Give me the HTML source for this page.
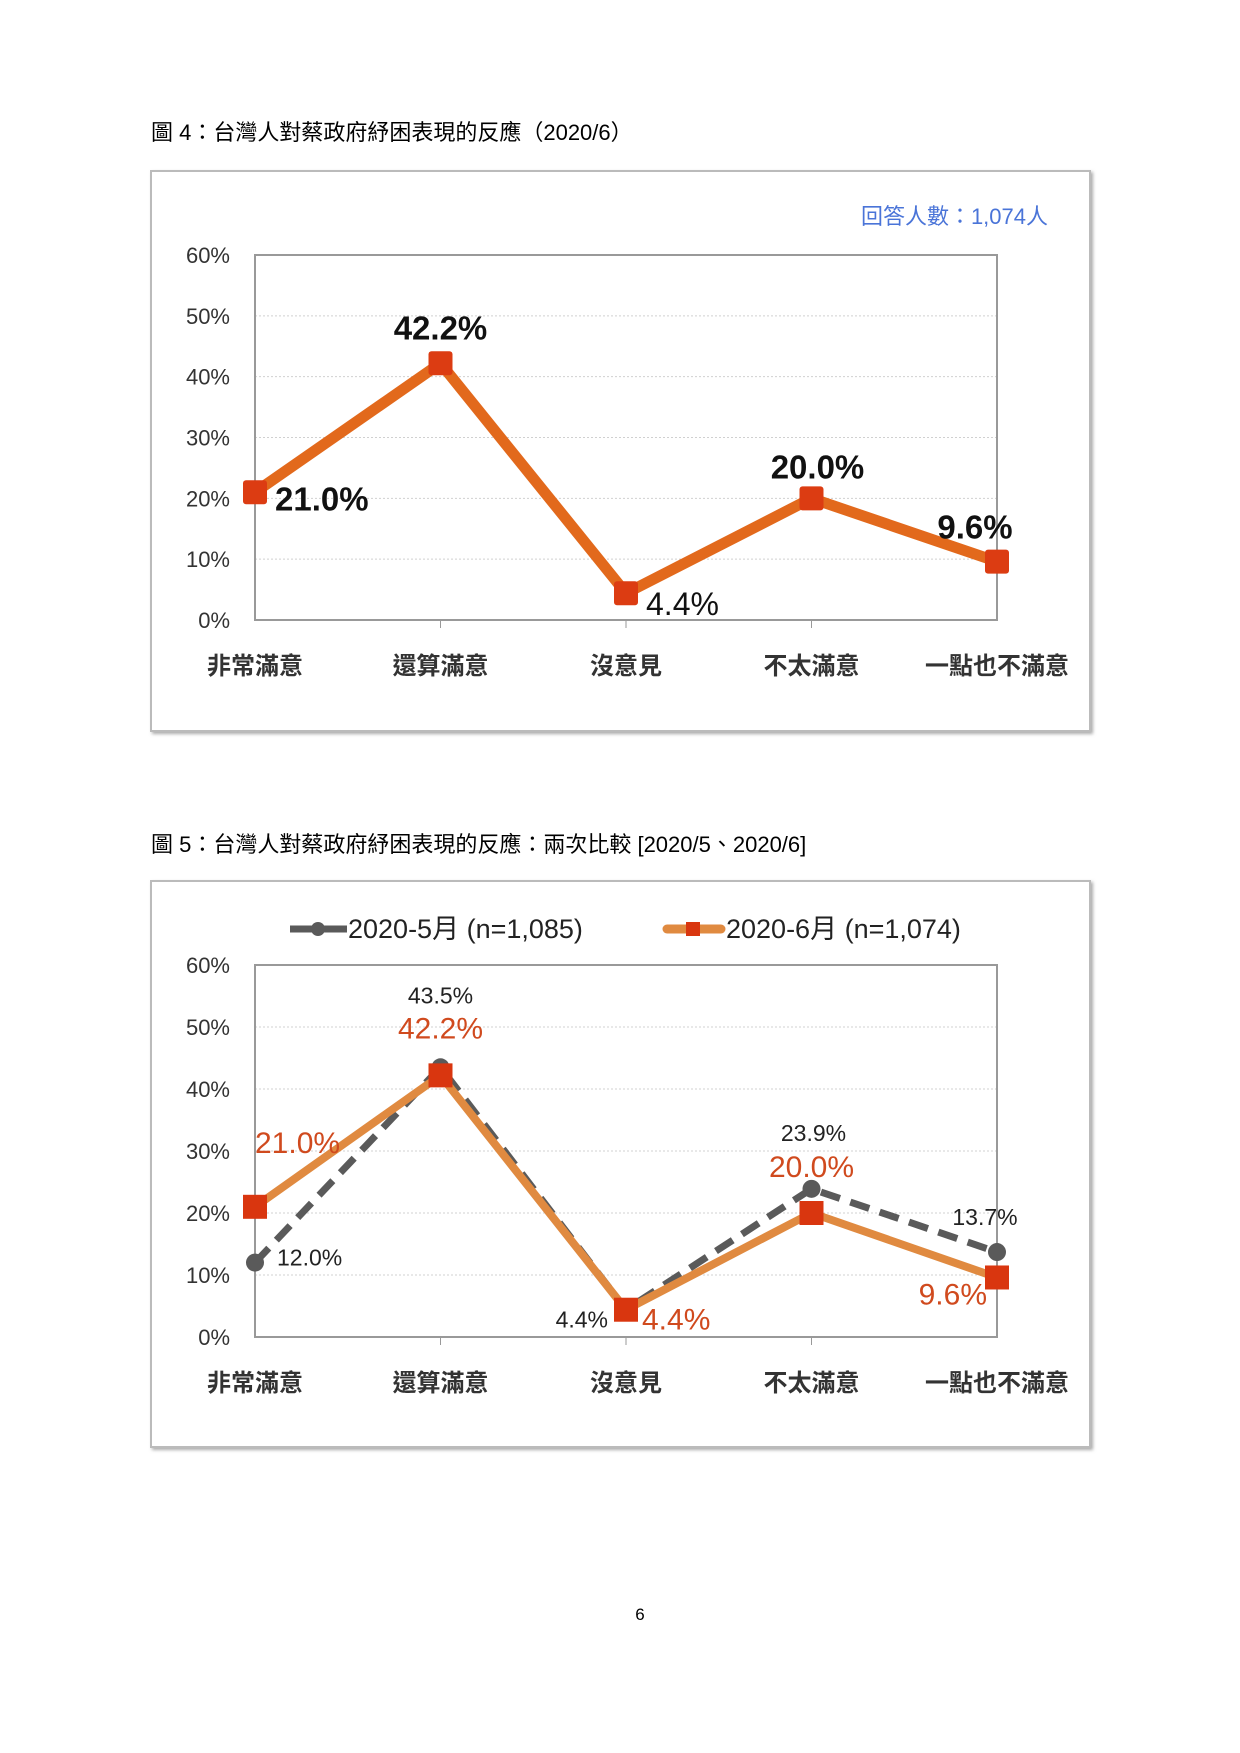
<!DOCTYPE html>
<html><head><meta charset="utf-8"><style>
body{margin:0;background:#fff;}
svg{display:block;font-family:"Liberation Sans","Noto Sans CJK TC",sans-serif;}
</style></head><body>
<svg id="page" width="1240" height="1753" viewBox="0 0 1240 1753">
<defs><filter id="sh" x="-5%" y="-5%" width="110%" height="110%"><feDropShadow dx="2" dy="2" stdDeviation="1.5" flood-color="#888" flood-opacity="0.7"/></filter></defs>
<text x="151" y="140" font-size="22" fill="#000">圖 4：台灣人對蔡政府紓困表現的反應（2020/6）</text>
<rect x="151" y="171" width="939" height="560" fill="#fff" stroke="#bbb" stroke-width="2" filter="url(#sh)"/>
<text x="1048" y="224" font-size="22" fill="#4a74d8" text-anchor="end">回答人數：1,074人</text>
<g id="c1"></g>
<text x="151" y="852" font-size="22" fill="#000">圖 5：台灣人對蔡政府紓困表現的反應：兩次比較 [2020/5、2020/6]</text>
<rect x="151" y="881" width="939" height="566" fill="#fff" stroke="#bbb" stroke-width="2" filter="url(#sh)"/>
<g>
<g>
<line x1="290" y1="929" x2="347" y2="929" stroke="#5a5a5a" stroke-width="7"/><circle cx="318" cy="929" r="7" fill="#5a5a5a"/>
<text x="348" y="938" font-size="27" fill="#222">2020-5月 (n=1,085)</text></g>
<g>
<line x1="667" y1="929" x2="721" y2="929" stroke="#e08a40" stroke-width="9" stroke-linecap="round"/><rect x="686" y="922" width="14" height="14" fill="#d9360f"/>
<text x="726" y="938" font-size="27" fill="#222">2020-6月 (n=1,074)</text></g>
</g>
<g id="c2"></g>
<text x="640" y="1620" font-size="17" text-anchor="middle" fill="#000">6</text>
</svg>
<script>
const categories=["非常滿意","還算滿意","沒意見","不太滿意","一點也不滿意"];
const yTicks=[0,10,20,30,40,50,60];
const june=[21.0,42.2,4.4,20.0,9.6];
const may=[12.0,43.5,4.4,23.9,13.7];
const NS="http://www.w3.org/2000/svg";
function mk(p,t,a){const e=document.createElementNS(NS,t);for(const k in a)e.setAttribute(k,a[k]);p.appendChild(e);return e;}
function axes(g,top,bot){
  const L=255,R=997;
  const x=i=>L+(R-L)*i/(categories.length-1);
  const y=v=>bot-(bot-top)*v/60;
  yTicks.forEach(t=>{
    if(t>0&&t<60){const gl=mk(g,'line',{x1:L,x2:R,y1:y(t),y2:y(t),stroke:'#d0d0d0','stroke-dasharray':'2,2'});
    
    }
    const tl=mk(g,'text',{x:230,y:y(t)+8,'font-size':22,'text-anchor':'end',fill:'#333'});tl.textContent=t+'%';
    
    
  });
  const fr=mk(g,'rect',{x:L,y:top,width:R-L,height:bot-top,fill:'none',stroke:'#999','stroke-width':2});
  
  
  categories.forEach((c,i)=>{
    if(i>0&&i<4)mk(g,'line',{x1:x(i),x2:x(i),y1:bot,y2:bot+8,stroke:'#999'});
    const cl=mk(g,'text',{x:x(i),y:bot+54,'font-size':24,'font-weight':'bold','text-anchor':'middle',fill:'#333'});cl.textContent=c;
    
    
  });
  return {x,y};
}
// chart 1
(function(){
  const g=document.getElementById('c1');const {x,y}=axes(g,255,620);
  const ln=mk(g,'polyline',{points:june.map((v,i)=>x(i)+','+y(v)).join(' '),fill:'none',stroke:'#e2691c','stroke-width':11,'stroke-linejoin':'round'});
  
  
  const off=[[20,8,'start'],[0,-34,'middle'],[20,12,'start'],[6,-30,'middle'],[-22,-33,'middle']];
  june.forEach((v,i)=>{
    const m=mk(g,'rect',{x:x(i)-12,y:y(v)-12,width:24,height:24,rx:3,fill:'#dc3c12'});
    
    
    const o=off[i];
    const t=mk(g,'text',{x:x(i)+o[0],y:y(v)+o[1]+10,'font-size':i==2?32:33,'font-weight':i==2?'normal':'bold','text-anchor':o[2],fill:'#111'});
    t.textContent=v.toFixed(1)+'%';
    
    
  });
})();
// chart 2
(function(){
  const g=document.getElementById('c2');const {x,y}=axes(g,965,1337);
  const ml=mk(g,'polyline',{points:may.map((v,i)=>x(i)+','+y(v)).join(' '),fill:'none',stroke:'#5a5a5a','stroke-width':7,'stroke-dasharray':'20,11'});
  
  
  may.forEach((v,i)=>{const c=mk(g,'circle',{cx:x(i),cy:y(v),r:9,fill:'#5a5a5a'});
    
    });
  const jl=mk(g,'polyline',{points:june.map((v,i)=>x(i)+','+y(v)).join(' '),fill:'none',stroke:'#e08a40','stroke-width':8,'stroke-linejoin':'round'});
  
  
  june.forEach((v,i)=>{const r=mk(g,'rect',{x:x(i)-12,y:y(v)-12,width:24,height:24,fill:'#d9360f'});
    
    });
  const moff=[[22,-5,'start'],[0,-72,'middle'],[-18,10,'end'],[2,-56,'middle'],[-12,-35,'middle']];
  const joff=[[0,-64,'start'],[0,-47,'middle'],[16,10,'start'],[0,-46,'middle'],[-10,17,'end']];
  may.forEach((v,i)=>{const o=moff[i];
    const t=mk(g,'text',{x:x(i)+o[0],y:y(v)+o[1]+8,'font-size':23,'text-anchor':o[2],fill:'#222'});t.textContent=v.toFixed(1)+'%';
    
    });
  june.forEach((v,i)=>{const o=joff[i];
    const t=mk(g,'text',{x:x(i)+o[0],y:y(v)+o[1]+10,'font-size':30,'text-anchor':o[2],fill:'#d04a1e'});t.textContent=v.toFixed(1)+'%';
    
    });
})();
</script>
</body></html>
